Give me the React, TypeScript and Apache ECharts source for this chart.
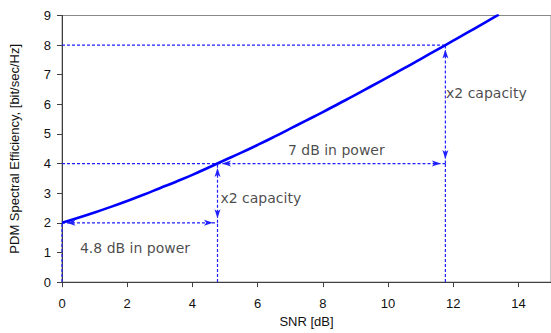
import React, { useEffect, useRef } from "react";
import * as echarts from "echarts";

// SNR [dB] and PDM spectral efficiency
const snrDb = [0, 0.5, 1, 1.5, 2, 2.5, 3, 3.5, 4, 4.5, 5, 5.5, 6, 6.5, 7, 7.5, 8, 8.5, 9, 9.5, 10, 10.5, 11, 11.5, 12, 12.5, 13, 13.4];
const efficiency = [2.0, 2.17, 2.35, 2.54, 2.74, 2.95, 3.17, 3.39, 3.62, 3.87, 4.12, 4.37, 4.63, 4.9, 5.18, 5.46, 5.74, 6.03, 6.32, 6.62, 6.92, 7.22, 7.53, 7.84, 8.15, 8.46, 8.78, 9.03];

// Guide lines (dashed, no arrows): [x1, y1, x2, y2]
const guideLines = [
  [0, 8, 11.76, 8],
  [0, 4, 4.77, 4],
  [0, 0, 0, 2],
  [4.77, 0, 4.77, 2],
  [11.76, 0, 11.76, 4],
];
// Double arrows: [x1, y1, x2, y2]
const arrowLines = [
  [0, 2, 4.77, 2],
  [4.77, 2, 4.77, 4],
  [4.77, 4, 11.76, 4],
  [11.76, 4, 11.76, 8],
];

// Annotation texts with anchor in data coordinates
const annText = ["4.8 dB in power", "x2 capacity", "7 dB in power", "x2 capacity"];
const annX = [2.24, 4.86, 6.93, 11.78];
const annY = [1.16, 2.85, 4.45, 6.37];
const annAlign = ["center", "left", "left", "left"];

const xTicks = { min: 0, max: 15, interval: 2 };
const yTicks = { min: 0, max: 9, interval: 1 };

export default function App() {
  const ref = useRef<HTMLDivElement>(null);
  useEffect(() => {
    if (!ref.current) return;
    const chart = echarts.init(ref.current, undefined, { renderer: "svg" });
    const dashColor = "#2020ff";
    const axisFont = "Liberation Sans, Arial, sans-serif";
    const headLen = 9;
    const headW = 4.5;

    // arrow heads at both ends of each double arrow, pointing outward
    const heads: any[] = [];
    arrowLines.forEach((l) => {
      const ends = [
        { x: l[0], y: l[1], dx: l[0] - l[2], dy: l[1] - l[3] },
        { x: l[2], y: l[3], dx: l[2] - l[0], dy: l[3] - l[1] },
      ];
      ends.forEach((e) => {
        let rot = 0;
        let off = [0, 0];
        if (e.dx > 0) { rot = -90; off = [-headLen / 2, 0]; }
        else if (e.dx < 0) { rot = 90; off = [headLen / 2, 0]; }
        else if (e.dy > 0) { rot = 0; off = [0, headLen / 2]; }
        else { rot = 180; off = [0, -headLen / 2]; }
        heads.push({ value: [e.x, e.y], symbolRotate: rot, symbolOffset: off });
      });
    });

    const segmentSeries = [...guideLines, ...arrowLines].map((l) => ({
      type: "line",
      data: [[l[0], l[1]], [l[2], l[3]]],
      showSymbol: false,
      symbol: "none",
      silent: true,
      clip: false,
      z: 3,
      color: dashColor,
      lineStyle: { color: dashColor, width: 1.2, type: [3, 2] },
      emphasis: { disabled: true },
    }));

    chart.setOption({
      animation: false,
      backgroundColor: "#ffffff",
      grid: {
        left: 59.5,
        right: -1,
        top: 15.5,
        bottom: 45.3,
        show: true,
        borderColor: "#8a8a8a",
        borderWidth: 1,
      },
      xAxis: {
        type: "value",
        min: xTicks.min,
        max: xTicks.max,
        interval: xTicks.interval,
        name: "SNR [dB]",
        nameLocation: "middle",
        nameGap: 32,
        nameTextStyle: { fontFamily: axisFont, fontSize: 13, color: "#111" },
        splitLine: { show: false },
        axisLine: { show: true, lineStyle: { color: "#404040", width: 1 } },
        axisTick: { show: true, length: 5, lineStyle: { color: "#404040" } },
        axisLabel: { fontFamily: axisFont, fontSize: 13, color: "#111", margin: 15, showMaxLabel: false },
      },
      yAxis: {
        type: "value",
        min: yTicks.min,
        max: yTicks.max,
        interval: yTicks.interval,
        name: "PDM Spectral Efficiency, [bit/sec/Hz]",
        nameLocation: "middle",
        nameGap: 41,
        nameTextStyle: { fontFamily: axisFont, fontSize: 13, color: "#111" },
        splitLine: { show: false },
        axisLine: { show: true, lineStyle: { color: "#404040", width: 1 } },
        axisTick: { show: true, length: 5, lineStyle: { color: "#404040" } },
        axisLabel: { fontFamily: axisFont, fontSize: 13, color: "#111", margin: 11 },
      },
      series: [
        ...segmentSeries,
        {
          type: "line",
          color: "#0000ff",
          data: snrDb.map((x, i) => [x, efficiency[i]]),
          showSymbol: false,
          smooth: true,
          clip: true,
          z: 5,
          lineStyle: { color: "#0000ff", width: 2.6 },
        },
        {
          type: "scatter",
          silent: true,
          z: 7,
          symbol: "arrow",
          symbolSize: [headW, headLen],
          itemStyle: { color: dashColor, opacity: 1 },
          emphasis: { disabled: true },
          data: heads,
        },
        {
          type: "scatter",
          symbolSize: 0,
          silent: true,
          z: 6,
          data: annText.map((t, i) => ({
            value: [annX[i], annY[i]],
            name: t,
            label: {
              show: true,
              formatter: t,
              position: annAlign[i] === "center" ? "inside" : "right",
              distance: 0,
              fontFamily: "DejaVu Sans, Verdana, sans-serif",
              fontSize: 14,
              color: "#1a1a1a",
            },
          })),
        },
      ],
    });
    return () => chart.dispose();
  }, []);
  return (
    <div
      ref={ref}
      style={{ position: "fixed", left: 0, top: 0, width: 551, height: 333, background: "#fff" }}
    />
  );
}
